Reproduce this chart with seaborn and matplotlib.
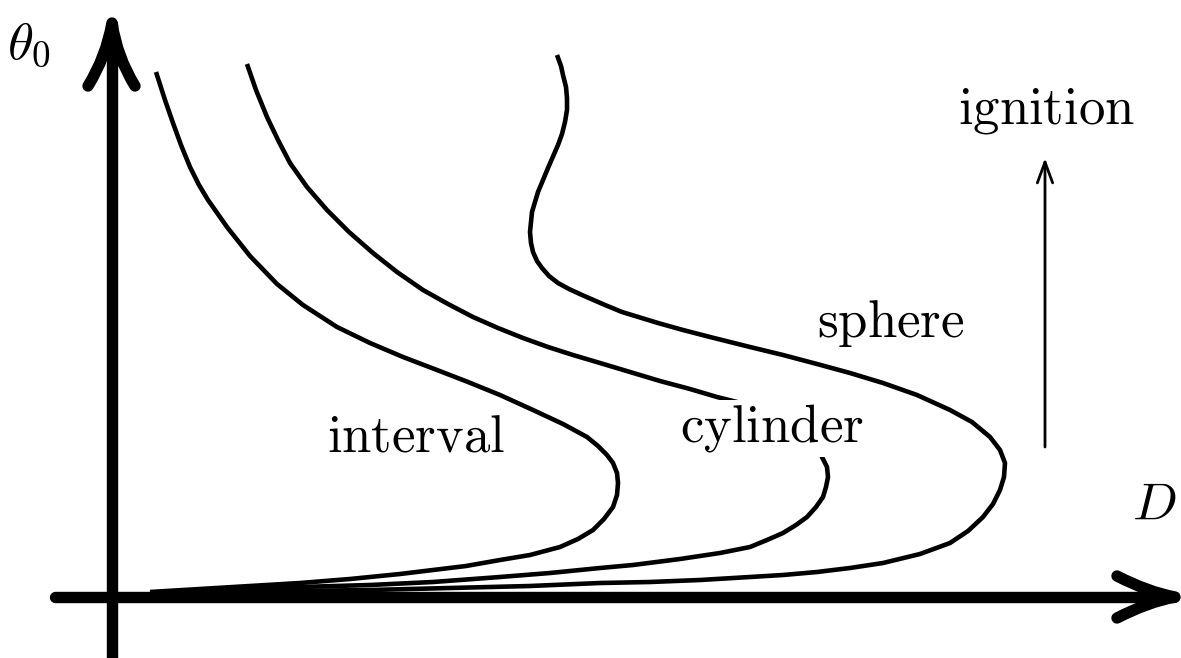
import matplotlib
matplotlib.use("Agg")
import numpy as np
import pandas as pd
import matplotlib.pyplot as plt
import seaborn as sns
from matplotlib.path import Path
from matplotlib.patches import PathPatch

# Critical initial temperature theta_0 against the parameter D for three geometries
interval_D = [0.44, 0.53, 0.61, 0.69, 0.78, 0.87, 0.96, 1.15, 1.38, 1.65, 1.91, 2.25,
              2.58, 2.91, 3.25, 3.56, 3.88, 4.21, 4.51, 4.75, 4.86, 4.95, 5.01, 5.05,
              5.06, 5.05, 5.01, 4.92, 4.81, 4.66, 4.48, 4.33, 4.18, 3.88, 3.54, 3.21,
              2.88, 2.38, 1.88, 1.38, 0.88, 0.38]
interval_theta = [5.25, 4.97, 4.74, 4.52, 4.30, 4.12, 3.97, 3.70, 3.41, 3.13, 2.92, 2.70,
                  2.54, 2.40, 2.27, 2.15, 2.02, 1.87, 1.73, 1.60, 1.51, 1.42, 1.34, 1.24,
                  1.14, 1.02, 0.90, 0.78, 0.67, 0.58, 0.50, 0.46, 0.42, 0.37, 0.31, 0.27,
                  0.23, 0.18, 0.14, 0.11, 0.08, 0.05]

cylinder_D = [1.35, 1.44, 1.55, 1.66, 1.78, 1.95, 2.15, 2.37, 2.61, 2.85, 3.11, 3.36,
              3.61, 3.86, 4.11, 4.36, 4.61, 4.88, 5.18, 5.48, 5.78, 6.05, 6.25, 6.58,
              6.88, 7.06, 7.10, 7.15, 7.16, 7.14, 7.11, 7.04, 6.95, 6.84, 6.71, 6.55,
              6.38, 6.08, 5.68, 5.21, 4.88, 4.38, 3.88, 3.21, 2.58, 1.88, 1.18, 0.48]
cylinder_theta = [5.33, 5.07, 4.80, 4.57, 4.34, 4.10, 3.87, 3.65, 3.44, 3.25, 3.07, 2.93,
                  2.80, 2.69, 2.59, 2.50, 2.42, 2.34, 2.25, 2.16, 2.08, 2.00, 1.95, 1.84,
                  1.69, 1.54, 1.40, 1.30, 1.20, 1.10, 1.00, 0.90, 0.80, 0.72, 0.64, 0.57,
                  0.50, 0.44, 0.38, 0.32, 0.29, 0.24, 0.20, 0.15, 0.12, 0.10, 0.07, 0.05]

sphere_D = [4.45, 4.49, 4.51, 4.54, 4.55, 4.55, 4.53, 4.50, 4.46, 4.36, 4.26, 4.20,
            4.18, 4.19, 4.21, 4.25, 4.30, 4.37, 4.46, 4.57, 4.70, 4.93, 5.10, 5.46,
            5.71, 5.98, 6.38, 6.71, 7.05, 7.38, 7.71, 8.05, 8.38, 8.60, 8.78, 8.88,
            8.93, 8.92, 8.88, 8.81, 8.71, 8.56, 8.38, 8.08, 7.71, 7.38, 7.05, 6.71,
            6.38, 5.88, 5.38, 4.88, 4.18, 3.38, 2.58, 1.78, 1.08, 0.58]
sphere_theta = [5.42, 5.31, 5.22, 5.10, 4.99, 4.87, 4.75, 4.63, 4.52, 4.29, 4.05, 3.85,
                3.65, 3.54, 3.45, 3.36, 3.29, 3.21, 3.14, 3.08, 3.02, 2.92, 2.85, 2.74,
                2.67, 2.60, 2.50, 2.42, 2.33, 2.24, 2.14, 2.02, 1.87, 1.75, 1.60, 1.47,
                1.34, 1.20, 1.07, 0.93, 0.80, 0.66, 0.54, 0.43, 0.34, 0.29, 0.25, 0.22,
                0.20, 0.17, 0.15, 0.14, 0.11, 0.09, 0.07, 0.06, 0.05, 0.04]

curves = pd.concat([
    pd.DataFrame({"D": interval_D, "theta": interval_theta, "shape": "interval"}),
    pd.DataFrame({"D": cylinder_D, "theta": cylinder_theta, "shape": "cylinder"}),
    pd.DataFrame({"D": sphere_D, "theta": sphere_theta, "shape": "sphere"}),
], ignore_index=True)

sns.set_theme(style="white")
plt.rcParams["mathtext.fontset"] = "cm"

fig = plt.figure(figsize=(11.81, 6.58), dpi=100)
ax = fig.add_axes([0, 0, 1, 1])
ax.set_xlim(-1.12, 10.69)
ax.set_ylim(-0.61, 5.97)
ax.axis("off")

sns.lineplot(data=curves, x="D", y="theta", units="shape", estimator=None,
             sort=False, color="black", linewidth=3.3, ax=ax, zorder=2,
             solid_joinstyle="round", solid_capstyle="butt")

# Heavy coordinate axes with curved arrow heads
axis_lw = 8.2
ax.plot([0, 0], [-0.62, 5.73], color="black", lw=axis_lw,
        solid_capstyle="round", zorder=3)
ax.plot([-0.57, 10.62], [0, 0], color="black", lw=axis_lw,
        solid_capstyle="round", zorder=3)


def arrow_head(tip, left, right, ctrl_l, ctrl_r):
    verts = [left, ctrl_l, tip, ctrl_r, right]
    codes = [Path.MOVETO, Path.CURVE3, Path.CURVE3, Path.CURVE3, Path.CURVE3]
    patch = PathPatch(Path(verts, codes), fill=False, edgecolor="black",
                      lw=axis_lw, capstyle="round", joinstyle="round", zorder=3)
    ax.add_patch(patch)


arrow_head(tip=(0.0, 5.74), left=(-0.24, 5.11), right=(0.23, 5.11),
           ctrl_l=(-0.06, 5.40), ctrl_r=(0.05, 5.40))
arrow_head(tip=(10.63, 0.0), left=(10.05, 0.21), right=(10.05, -0.21),
           ctrl_l=(10.36, 0.05), ctrl_r=(10.36, -0.05))

# Ignition direction
ax.annotate("", xy=(9.33, 4.39), xytext=(9.33, 1.50),
            arrowprops=dict(arrowstyle="->,head_length=0.6,head_width=0.22",
                            lw=2.0, color="black", mutation_scale=25,
                            shrinkA=0, shrinkB=0), zorder=3)

fs = 38
ax.text(-1.05, 5.39, r"$\theta_0$", fontsize=fs, ha="left", va="baseline", color="black")
ax.text(10.42, 0.77, r"$D$", fontsize=fs, ha="center", va="baseline", color="black")
ax.text(9.34, 4.74, r"$\mathrm{ignition}$", fontsize=fs, ha="center", va="baseline",
        color="black")
ax.text(7.79, 2.60, r"$\mathrm{sphere}$", fontsize=fs, ha="center", va="baseline",
        color="black")
ax.text(3.04, 1.45, r"$\mathrm{interval}$", fontsize=fs, ha="center", va="baseline",
        color="black")
ax.text(6.60, 1.55, r"$\mathrm{cylinder}$", fontsize=fs, ha="center", va="baseline",
        color="black", bbox=dict(facecolor="white", edgecolor="none", pad=2), zorder=5)

fig.savefig("out.png", dpi=100)
